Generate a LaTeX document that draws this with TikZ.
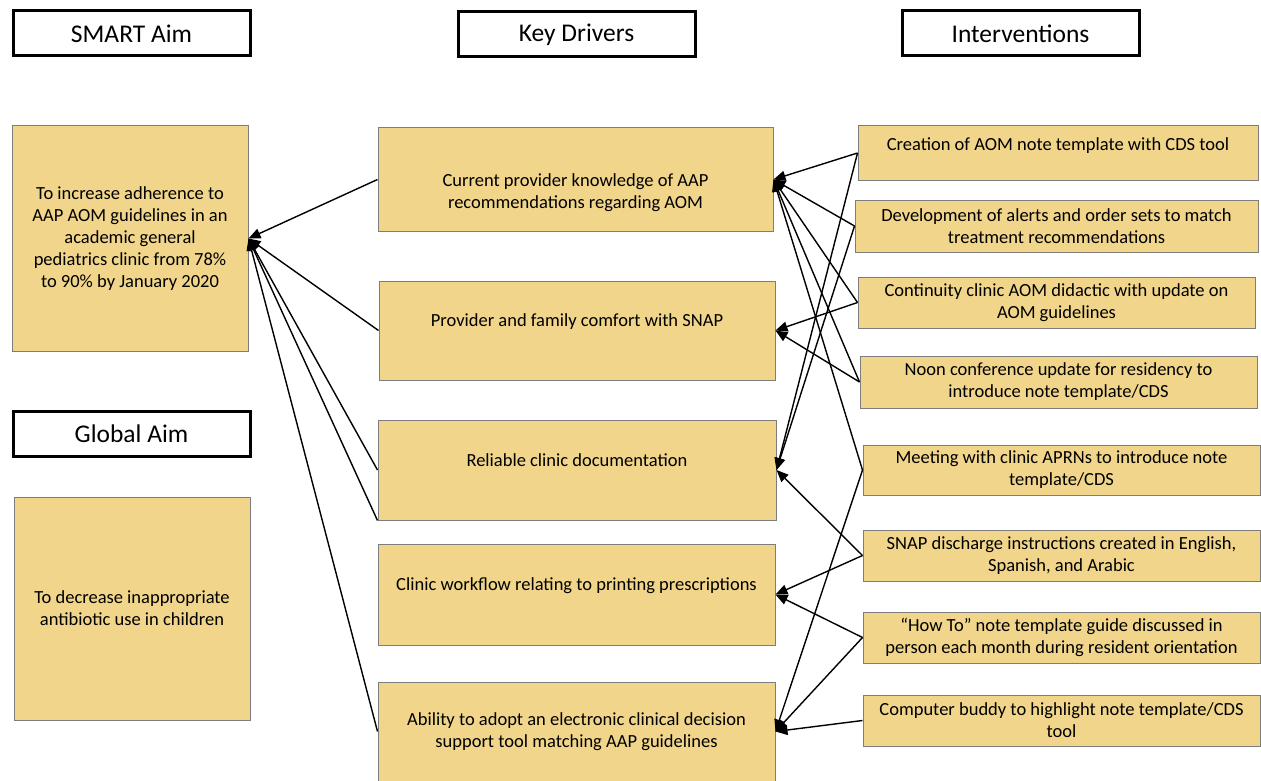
\documentclass[tikz,border=0pt]{standalone}
\usepackage{fontspec}
\setmainfont{Carlito}
\usepackage{tikz}
\usetikzlibrary{
    arrows.meta,
    positioning
}
\definecolor{cardfill}{RGB}{240,213,138}
\definecolor{cardline}{RGB}{125,125,125}

\begin{document}
\begin{tikzpicture}[x=1pt, y=-1pt,
    header/.style={draw=black, line width=3pt, fill=white, minimum width=237pt,
        minimum height=45pt, inner sep=0pt, font=\fontsize{25.5}{30}\selectfont},
    card/.style={draw=cardline, line width=1pt, fill=cardfill, inner sep=0pt,
        align=center, font=\fontsize{18.5}{22}\selectfont},
    link/.style={line width=1.4pt, -{Triangle[length=12pt, width=10pt]}}]
    \useasboundingbox (0, 0) rectangle (1261, 781);
    \begin{scope}
        \node[header] (smart) at (131.5, 33.5) {SMART Aim};
        \node[header] (global) at (131.5, 433.5) {Global Aim};
        \node[card, minimum width=236pt, minimum height=225pt] (aim) at (130, 238.5)
            {To increase adherence to\\AAP AOM guidelines in an\\academic general\\pediatrics clinic from 78\%\\to 90\% by January 2020};
        \node[card, minimum width=236pt, minimum height=223pt] (goal) at (132, 608.5)
            {To decrease inappropriate\\antibiotic use in children};
    \end{scope}
    \begin{scope}
        \node[header] (drivers) at (576.5, 34.5) {Key Drivers};
        \node[card, minimum width=395pt, minimum height=103pt, text height=62pt] (kd1) at (575.5, 179.5)
            {Current provider knowledge of AAP\\recommendations regarding AOM};
        \node[card, minimum width=396pt, minimum height=99pt, text depth=20pt] (kd2) at (577, 330.5)
            {Provider and family comfort with SNAP};
        \node[card, minimum width=398pt, minimum height=100pt, text depth=20pt] (kd3) at (577, 470)
            {Reliable clinic documentation};
        \node[card, minimum width=397pt, minimum height=101pt, text depth=20pt] (kd4) at (576.5, 594.5)
            {Clinic workflow relating to printing prescriptions};
        \node[card, minimum width=397pt, minimum height=99pt] (kd5) at (576.5, 731.5)
            {Ability to adopt an electronic clinical decision\\support tool matching AAP guidelines};
    \end{scope}
    \begin{scope}
        \node[header] (interventions) at (1020.5, 33.5) {Interventions};
        \node[card, minimum width=400pt, minimum height=54pt, text depth=18pt] (i1) at (1058, 153)
            {Creation of AOM note template with CDS tool};
        \node[card, minimum width=403pt, minimum height=52pt] (i2) at (1056.5, 226)
            {Development of alerts and order sets to match\\treatment recommendations};
        \node[card, minimum width=397pt, minimum height=51pt] (i3) at (1056.5, 302.5)
            {Continuity clinic AOM didactic with update on\\AOM guidelines};
        \node[card, minimum width=397pt, minimum height=52pt] (i4) at (1058.5, 382)
            {Noon conference update for residency to\\introduce note template/CDS};
        \node[card, minimum width=397pt, minimum height=50pt] (i5) at (1061.5, 470)
            {Meeting with clinic APRNs to introduce note\\template/CDS};
        \node[card, minimum width=397pt, minimum height=51pt] (i6) at (1061.5, 555.5)
            {SNAP discharge instructions created in English,\\Spanish, and Arabic};
        \node[card, minimum width=397pt, minimum height=51pt] (i7) at (1061.5, 637.5)
            {“How To” note template guide discussed in\\person each month during resident orientation};
        \node[card, minimum width=397pt, minimum height=51pt] (i8) at (1061.5, 720.5)
            {Computer buddy to highlight note template/CDS\\tool};
    \end{scope}
    \draw
    (kd1.west) edge[link] (aim.east)
    (kd2.west) edge[link] (aim.east)
    (kd3.west) edge[link] (aim.east)
    (kd3.south west) edge[link] (aim.east)
    (kd5.west) edge[link] (aim.east)
    (i1.west) edge[link] (kd1.east)
    (i1.west) edge[link] (kd3.east)
    (i2.west) edge[link] (kd1.east)
    (i2.west) edge[link] (kd3.east)
    (i3.west) edge[link] (kd1.east)
    (i3.west) edge[link] (kd2.east)
    (i4.west) edge[link] (kd1.east)
    (i4.west) edge[link] (kd2.east)
    (i5.west) edge[link] (kd1.east)
    (i5.west) edge[link] (kd5.east)
    (i6.west) edge[link] (kd3.east)
    (i6.west) edge[link] (kd4.east)
    (i7.west) edge[link] (kd4.east)
    (i7.west) edge[link] (kd5.east)
    (i8.west) edge[link] (kd5.east);
\end{tikzpicture}
\end{document}
